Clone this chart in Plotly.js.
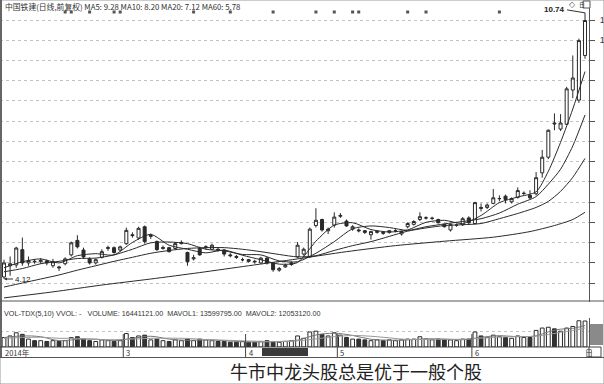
<!DOCTYPE html>
<html>
<head>
<meta charset="utf-8">
<script src="https://cdn.plot.ly/plotly-3.0.1.min.js"></script>
<style>
  html, body { margin: 0; padding: 0; background: #fff; }
  #chart { width: 604px; height: 384px; }
</style>
</head>
<body>
<div id="chart"></div>
<script>
// 中国铁建 daily bars (前复权)
const openP = [4.17,4.45,4.47,4.85,4.52,4.56,4.55,4.57,4.45,4.42,4.50,4.72,5.08,4.84,4.62,4.52,4.66,4.88,4.90,4.84,
  5.00,5.22,5.14,5.42,5.18,5.05,4.88,4.90,4.88,5.00,4.78,4.62,4.88,4.90,4.86,4.86,4.84,4.72,4.68,4.60,
  4.60,4.56,4.52,4.64,4.52,4.34,4.42,4.48,4.67,4.74,4.67,5.45,5.60,5.32,5.46,5.68,5.56,5.36,5.34,5.32,
  5.22,5.28,5.28,5.28,5.32,5.24,5.42,5.48,5.60,5.64,5.63,5.60,5.48,5.34,5.46,5.47,5.64,5.50,5.90,5.90,
  6.00,6.12,6.18,6.04,6.15,6.25,6.20,6.24,6.76,7.15,8.00,7.85,7.97,8.82,8.57,9.68];
const highP = [4.60,4.68,4.92,5.15,4.68,4.62,4.64,4.60,4.62,4.45,4.66,5.05,5.21,4.90,4.66,4.63,4.86,4.95,4.93,4.95,
  5.40,5.28,5.42,5.45,5.25,5.08,4.95,4.92,5.04,5.08,4.80,4.72,4.92,4.96,5.00,4.90,4.86,4.76,4.72,4.65,
  4.62,4.60,4.67,4.66,4.54,4.42,4.50,4.56,5.04,4.90,5.40,5.88,5.62,5.40,5.78,5.76,5.60,5.46,5.38,5.34,
  5.32,5.33,5.30,5.34,5.36,5.32,5.53,5.58,5.78,5.68,5.67,5.62,5.50,5.50,5.50,5.66,5.68,6.04,6.00,6.00,
  6.36,6.20,6.22,6.15,6.40,6.30,6.33,6.78,7.33,7.84,8.24,8.22,8.90,9.68,10.10,10.74];
const lowP = [4.12,4.20,4.40,4.45,4.45,4.50,4.50,4.46,4.40,4.32,4.46,4.68,4.88,4.62,4.48,4.48,4.63,4.82,4.75,4.80,
  4.97,5.15,5.10,5.00,5.12,4.82,4.85,4.78,4.85,4.98,4.45,4.58,4.70,4.86,4.84,4.80,4.68,4.66,4.62,4.56,
  4.53,4.50,4.50,4.48,4.30,4.30,4.40,4.45,4.64,4.70,4.65,5.40,5.30,5.24,5.40,5.64,5.42,5.32,5.28,5.24,
  5.10,5.25,5.22,5.25,5.28,5.20,5.38,5.45,5.56,5.60,5.59,5.50,5.40,5.30,5.42,5.44,5.48,5.48,5.80,5.86,
  5.98,6.05,6.00,6.00,6.12,6.20,6.10,6.20,6.64,7.10,7.82,7.80,7.95,8.62,8.50,9.60];
const closeP = [4.52,4.50,4.89,4.52,4.58,4.55,4.58,4.52,4.55,4.40,4.62,5.02,4.92,4.67,4.52,4.60,4.80,4.90,4.78,4.92,
  5.33,5.20,5.38,5.05,5.20,4.85,4.90,4.80,5.00,5.03,4.55,4.65,4.72,4.92,4.96,4.84,4.74,4.70,4.66,4.60,
  4.56,4.55,4.64,4.52,4.35,4.38,4.46,4.52,4.96,4.86,5.36,5.58,5.34,5.36,5.66,5.70,5.44,5.42,5.32,5.28,
  5.30,5.30,5.26,5.32,5.32,5.30,5.50,5.55,5.67,5.64,5.63,5.52,5.42,5.48,5.46,5.62,5.52,6.02,5.88,5.96,
  6.14,6.12,6.10,6.12,6.32,6.25,6.14,6.64,7.15,7.82,7.98,8.00,8.85,9.12,10.05,10.55];

// volume, millions
const volume = [6,7,9,8,5, 4,4,3.5,4,3.5,4, 6,6.5,5, 4,3.5,4.5,4,3.5,4, 8.5,6,7,7.5,
  4.5,5,4,3.5,4.5,4,5,4, 5,4.5,4,3.5,3.5,3,3,3.5,3,3,3.5,4,3.5,3,3.5,4,
  7,5.5,9.5,10,8,7,9,7.5, 6,5,5,4.5,4,4.5,4,4.5,4,4.5,
  5,5,6.5,5,4.5,5,4.5,4.5,4,5,5, 9.5,7,6,7.5,6.5,6,5.5,7,6,6,
  10.5,12,12.5,11.5,10,12,13,16.6,16.44];

// moving averages, read at these bar positions
const maIdx = [0,3,6,9,12,15,18,21,24,27,30,33,36,39,42,45,48,51,54,57,60,63,66,69,72,75,78,81,84,87,89,91,93,95];
const ma5 = [4.40,4.55,4.62,4.52,4.70,4.75,4.72,5.03,5.23,4.96,4.86,4.77,4.84,4.71,4.60,4.49,4.53,5.06,5.46,5.52,
  5.35,5.29,5.34,5.53,5.58,5.50,5.70,6.02,6.16,6.29,6.80,7.52,8.35,9.28];
const ma10 = [4.30,4.38,4.50,4.56,4.63,4.64,4.72,4.86,5.02,5.04,5.00,4.86,4.82,4.73,4.72,4.57,4.55,4.76,5.05,5.37,
  5.44,5.40,5.33,5.42,5.49,5.55,5.62,5.76,5.98,6.17,6.48,6.85,7.43,8.20];
const ma20 = [3.92,4.02,4.12,4.22,4.34,4.45,4.56,4.66,4.76,4.83,4.88,4.90,4.90,4.86,4.80,4.73,4.67,4.70,4.83,4.95,
  5.05,5.18,5.31,5.39,5.45,5.47,5.50,5.62,5.75,5.90,6.05,6.30,6.65,7.12];
const ma60Idx = [0,8,16,24,32,40,48,56,64,72,80,86,90,93,95];
const ma60 = [3.65,3.80,3.97,4.12,4.28,4.45,4.62,4.80,4.95,5.06,5.16,5.30,5.45,5.60,5.78];
const mavol1 = [6,7,6.5,4,4.8,5,4,5.5,6.8,5,4.2,4.5,4,3.3,3.2,3.5,4.4,7.6,8.7,7.3,
  4.9,4.3,4.5,5.2,5,4.6,6.1,7.2,6.5,7.1,9.6,11.3,11.8,13.6];
const mavol2 = [5.5,6,6.2,5.5,5.5,4.8,4.6,5,5.5,5.6,5.4,4.7,4.3,3.9,3.6,3.4,3.9,5.1,6.5,7.3,
  6.8,5.8,4.7,4.8,4.9,4.9,5.6,6.3,6.6,6.8,7.9,9.3,10.4,12.05];

// month boundaries (bar index) and labels
const monthIdx = [0, 20, 40, 55, 77];
const monthLabels = ['2014年', '3', '4', '5', '6'];
// information-mine markers along the top
const infoIdx = [10, 11, 14, 18, 19, 31, 37, 44, 51, 54, 57, 58, 66, 69, 81];
// price grid levels on the right scale
const gridVals = [4.02,4.52,5.03,5.53,6.03,6.54,7.04,7.54,8.05,8.55,9.05,9.55,10.06,10.56];

const idx = closeP.map((_, i) => i);
const up = closeP.map((c, i) => c >= openP[i]);
const lineCol = '#2a2a2a';
const W = 604, H = 384;
const px = v => v / W;           // horizontal pixel -> paper
const py = v => 1 - v / H;       // vertical pixel -> paper
const hi = highP.reduce((a, b) => Math.max(a, b));
const hiI = highP.indexOf(hi);
const lo = lowP.reduce((a, b) => Math.min(a, b));
const loI = lowP.indexOf(lo);

const maTrace = (xs, ys) => ({
  type: 'scatter', mode: 'lines', x: xs, y: ys, xaxis: 'x', yaxis: 'y',
  line: { color: lineCol, width: 1, shape: 'spline', smoothing: 0.7 }, hoverinfo: 'skip'
});

const traces = [
  maTrace(ma60Idx, ma60), maTrace(maIdx, ma20), maTrace(maIdx, ma10), maTrace(maIdx, ma5),
  {
    type: 'candlestick', x: idx, open: openP, high: highP, low: lowP, close: closeP,
    xaxis: 'x', yaxis: 'y', whiskerwidth: 0, hoverinfo: 'skip',
    increasing: { line: { color: lineCol, width: 1 }, fillcolor: '#ffffff' },
    decreasing: { line: { color: lineCol, width: 1 }, fillcolor: '#2a2a2a' }
  },
  {
    type: 'bar', x: idx, y: volume, xaxis: 'x', yaxis: 'y2', width: 0.62,
    marker: { color: up.map(u => u ? '#ffffff' : '#333333'), line: { color: lineCol, width: 1 } },
    hoverinfo: 'skip'
  },
  {
    type: 'scatter', mode: 'lines', x: maIdx, y: mavol1, xaxis: 'x', yaxis: 'y2',
    line: { color: '#777', width: 1, shape: 'spline' }, hoverinfo: 'skip'
  },
  {
    type: 'scatter', mode: 'lines', x: maIdx, y: mavol2, xaxis: 'x', yaxis: 'y2',
    line: { color: '#999', width: 1, shape: 'spline' }, hoverinfo: 'skip'
  },
  {
    type: 'scatter', mode: 'markers', x: infoIdx, y: infoIdx.map(() => 0.5), xaxis: 'x', yaxis: 'y3',
    marker: { symbol: 'square', size: 3, color: '#555' }, hoverinfo: 'skip'
  }
];

const shapes = [
  // outer frame
  { type: 'rect', xref: 'paper', yref: 'paper', x0: 0, x1: 1, y0: 0, y1: 1, line: { color: '#9a9a9a', width: 1 } },
  { type: 'line', xref: 'paper', yref: 'paper', x0: px(1), x1: px(1), y0: py(358), y1: 1, line: { color: '#666', width: 2 } },
  // panel separators
  { type: 'line', xref: 'paper', yref: 'paper', x0: 0, x1: 1, y0: py(301), y1: py(301), line: { color: '#555', width: 1 } },
  { type: 'line', xref: 'paper', yref: 'paper', x0: 0, x1: px(589), y0: py(347), y1: py(347), line: { color: '#444', width: 1 } },
  { type: 'line', xref: 'paper', yref: 'paper', x0: 0, x1: 1, y0: py(357.5), y1: py(357.5), line: { color: '#555', width: 1 } },
  // date box on the axis strip
  { type: 'rect', xref: 'paper', yref: 'paper', x0: px(262), x1: px(308), y0: py(356), y1: py(348), fillcolor: '#3a3a3a', line: { width: 0 } },
  // period box at the right end of the axis strip
  { type: 'rect', xref: 'paper', yref: 'paper', x0: px(589), x1: px(601), y0: py(357), y1: py(347), line: { color: '#444', width: 1 } },
  { type: 'rect', xref: 'paper', yref: 'paper', x0: px(590), x1: px(603), y0: py(345), y1: py(324), fillcolor: '#8a8a8a', line: { width: 0 } },
  // box next to the diamond in the top right
  { type: 'rect', xref: 'paper', yref: 'paper', x0: px(583), x1: px(590), y0: py(8), y1: py(1), line: { color: '#555', width: 1 } }
];
monthIdx.slice(1).forEach(m => shapes.push({
  type: 'line', xref: 'x', yref: 'paper', x0: m - 0.5, x1: m - 0.5, y0: py(357), y1: py(334),
  line: { color: '#444', width: 1 }
}));

const annotations = [
  { xref: 'paper', yref: 'paper', x: px(3), y: py(6), xanchor: 'left', yanchor: 'middle', showarrow: false,
    text: '中国铁建(日线,前复权) MA5: 9.28 MA10: 8.20 MA20: 7.12 MA60: 5.78',
    font: { family: 'Noto Sans CJK SC, DejaVu Sans', size: 7.8, color: '#333' } },
  { xref: 'paper', yref: 'paper', x: px(2), y: py(313), xanchor: 'left', yanchor: 'middle', showarrow: false,
    text: 'VOL-TDX(5,10) VVOL: -   VOLUME: 16441121.00  MAVOL1: 13599795.00  MAVOL2: 12053120.00',
    font: { family: 'Liberation Sans, Arial', size: 7.2, color: '#333' } },
  { xref: 'x', yref: 'y', x: hiI, y: hi, ax: -18, ay: -3, axref: 'pixel', ayref: 'pixel', showarrow: true,
    arrowhead: 0, arrowwidth: 1, arrowcolor: '#333', text: hi.toFixed(2), xanchor: 'right', yanchor: 'middle',
    font: { family: 'Liberation Sans, Arial', size: 8, color: '#222', weight: 'bold' } },
  { xref: 'x', yref: 'y', x: loI, y: lo, ax: 9, ay: 0, showarrow: true, arrowhead: 2, arrowsize: 0.6,
    arrowwidth: 1, arrowcolor: '#333', text: lo.toFixed(2), xanchor: 'left', yanchor: 'middle',
    font: { family: 'Liberation Sans, Arial', size: 8, color: '#222' } },
  { xref: 'paper', yref: 'paper', x: px(578), y: py(4.5), yanchor: 'middle', showarrow: false, text: '◇',
    font: { family: 'DejaVu Sans', size: 8, color: '#555' } },
  { xref: 'paper', yref: 'paper', x: px(586.5), y: py(4.5), yanchor: 'middle', showarrow: false, text: '日',
    font: { family: 'Noto Sans CJK SC', size: 6, color: '#333' } },
  { xref: 'paper', yref: 'paper', x: px(595), y: py(352), yanchor: 'middle', showarrow: false, text: '日',
    font: { family: 'Noto Sans CJK SC', size: 8, color: '#333' } },
  { xref: 'paper', yref: 'paper', x: px(356), y: py(371), yanchor: 'middle', showarrow: false,
    text: '牛市中龙头股总是优于一般个股',
    font: { family: 'Noto Sans CJK SC', size: 18, color: '#222' } }
];
monthIdx.forEach((m, k) => annotations.push({
  xref: 'x', yref: 'paper', x: k === 0 ? 0 : m - 0.5, y: py(352.5), xanchor: 'left', yanchor: 'middle',
  xshift: k === 0 ? -1 : 1, showarrow: false, text: monthLabels[k],
  font: { family: 'Noto Sans CJK SC, Liberation Sans', size: 7.5, color: '#333' }
}));

const layout = {
  width: W, height: H, margin: { l: 0, r: 0, t: 0, b: 0 },
  paper_bgcolor: '#ffffff', plot_bgcolor: 'rgba(0,0,0,0)', showlegend: false,
  xaxis: {
    domain: [0, px(589)], range: [-0.654, 95.65], anchor: 'y',
    showticklabels: false, showgrid: false, zeroline: false, ticks: '',
    rangeslider: { visible: false }, fixedrange: true
  },
  yaxis: {
    domain: [py(302), py(8)], range: [3.548, 10.861], side: 'right', anchor: 'x',
    tickmode: 'array', tickvals: gridVals,
    // the scale column is narrow: only the leading digit of the two top levels shows
    ticktext: gridVals.map(v => v >= 10 ? '1' : ''),
    showgrid: true, gridcolor: '#c2c2c2', griddash: 'dot', gridwidth: 1,
    ticks: 'outside', ticklen: 5, tickcolor: '#555', ticklabelstandoff: 3,
    showline: true, linecolor: '#555', zeroline: false,
    tickfont: { family: 'Liberation Sans, Arial', size: 9, color: '#333' }
  },
  yaxis2: {
    domain: [py(347), py(318)], range: [0, 18.35], side: 'right', anchor: 'x',
    tickmode: 'array', tickvals: [9.5], showticklabels: false,
    showgrid: true, gridcolor: '#c2c2c2', griddash: 'dot',
    ticks: '', showline: true, linecolor: '#555', zeroline: false
  },
  yaxis3: {
    domain: [py(14), py(10)], range: [0, 1], anchor: 'x', visible: false
  },
  shapes: shapes,
  annotations: annotations
};

Plotly.newPlot('chart', traces, layout, { staticPlot: true, displayModeBar: false });
</script>
</body>
</html>
